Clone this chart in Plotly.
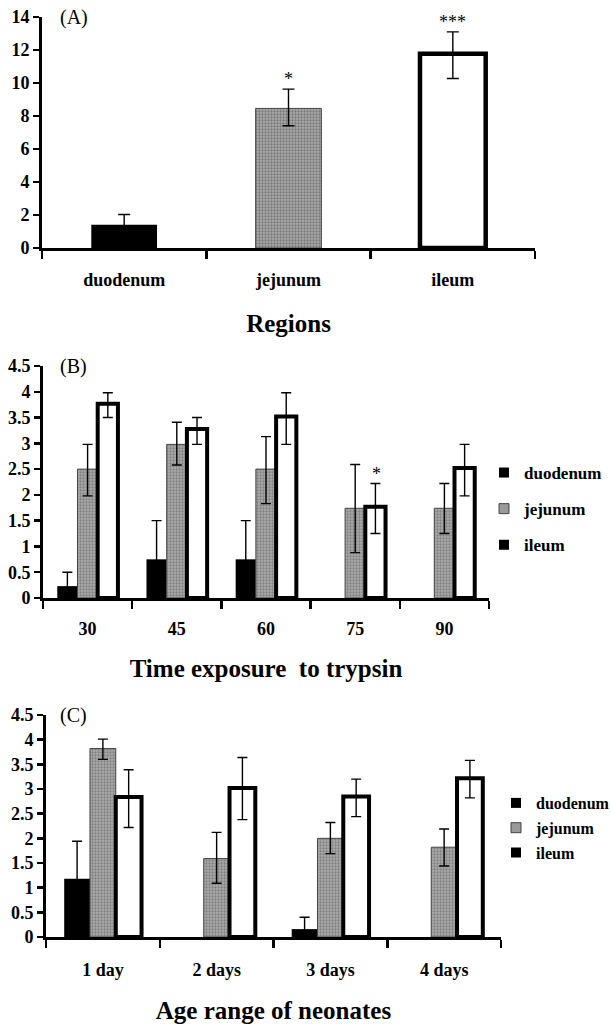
import plotly.graph_objects as go

# ---------------- data ----------------
regions = ["duodenum", "jejunum", "ileum"]
a_values = [1.41, 8.46, 11.78]
a_err_hi = [0.62, 1.17, 1.32]
a_err_lo = [0.62, 1.05, 1.51]
a_stars = ["", "*", "***"]

times = ["30", "45", "60", "75", "90"]
b_duo = [0.23, 0.75, 0.75, None, None]      # no duodenum bar at 75 and 90
b_duo_err = [0.27, 0.75, 0.75, None, None]
b_jej = [2.50, 2.98, 2.50, 1.74, 1.74]
b_jej_hi = [0.48, 0.43, 0.63, 0.85, 0.48]
b_jej_lo = [0.52, 0.40, 0.67, 0.86, 0.49]
b_ile = [3.77, 3.28, 3.52, 1.77, 2.52]
b_ile_hi = [0.21, 0.22, 0.46, 0.45, 0.46]
b_ile_lo = [0.27, 0.30, 0.54, 0.52, 0.54]
b_stars_ile = ["", "", "", "*", ""]

ages = ["1 day", "2 days", "3 days", "4 days"]
c_duo = [1.18, None, 0.16, None]             # no duodenum bar at 2 and 4 days
c_duo_err = [0.76, None, 0.24, None]
c_jej = [3.82, 1.59, 2.00, 1.82]
c_jej_hi = [0.19, 0.53, 0.32, 0.37]
c_jej_lo = [0.22, 0.50, 0.31, 0.38]
c_ile = [2.84, 3.02, 2.85, 3.22]
c_ile_hi = [0.55, 0.62, 0.35, 0.36]
c_ile_lo = [0.62, 0.64, 0.41, 0.40]

series_names = ["duodenum", "jejunum", "ileum"]
# --------------------------------------

FONT = "Liberation Serif, Times New Roman, serif"
W, H = 611, 1024
JEJ_BG = "#ababab"
JEJ_FG = "#555555"

def px_x(p):
    return p / W

def px_y(p):
    return 1 - p / H

def lower_clip(errs, vals):
    return [None if (e is None or v is None) else min(e, v)
            for e, v in zip(errs, vals)]

duo_style = dict(color="black", line=dict(width=0))
jej_style = dict(color=JEJ_BG, line=dict(width=1, color="#444444"),
                 pattern=dict(shape=".", size=3, solidity=0.45,
                              fgcolor=JEJ_FG, bgcolor=JEJ_BG))

def ile_style(w):
    return dict(color="white", line=dict(width=w, color="black"))

def err(hi, lo, cap):
    return dict(type="data", array=hi, arrayminus=lo, symmetric=False,
                color="black", thickness=1.4, width=cap, visible=True)

fig = go.Figure()

# ---- panel A ----
a_colors = ["black", JEJ_BG, "white"]
a_line_w = [0, 1, 4.5]
a_line_c = ["black", "#444444", "black"]
a_pat = ["", ".", ""]
fig.add_trace(go.Bar(
    x=regions, y=a_values, xaxis="x", yaxis="y", showlegend=False,
    marker=dict(color=a_colors, line=dict(width=a_line_w, color=a_line_c),
                pattern=dict(shape=a_pat, size=3, solidity=0.45,
                             fgcolor=JEJ_FG, bgcolor=JEJ_BG)),
    error_y=err(a_err_hi, a_err_lo, 6), width=0.4,
))

# ---- panel B ----
b_sets = [
    (b_duo, b_duo_err, lower_clip(b_duo_err, b_duo), duo_style),
    (b_jej, b_jej_hi, b_jej_lo, jej_style),
    (b_ile, b_ile_hi, b_ile_lo, ile_style(4)),
]
for name, (vals, hi, lo, st) in zip(series_names, b_sets):
    fig.add_trace(go.Bar(
        x=times, y=vals, name=name, xaxis="x2", yaxis="y2",
        marker=st, error_y=err(hi, lo, 5), showlegend=False,
    ))

# ---- panel C ----
c_sets = [
    (c_duo, c_duo_err, lower_clip(c_duo_err, c_duo), duo_style),
    (c_jej, c_jej_hi, c_jej_lo, jej_style),
    (c_ile, c_ile_hi, c_ile_lo, ile_style(4)),
]
for name, (vals, hi, lo, st) in zip(series_names, c_sets):
    fig.add_trace(go.Bar(
        x=ages, y=vals, name=name, xaxis="x3", yaxis="y3",
        marker=st, error_y=err(hi, lo, 5), showlegend=False,
    ))

# ---- legend entries (legend-only markers, styled like the original keys) ----
legend_marker = {
    "duodenum": dict(color="black", line=dict(width=0)),
    "jejunum": dict(color="#9a9a9a", line=dict(width=1, color="#444444")),
    "ileum": dict(color="black", line=dict(width=0)),
}
for leg, xr, yr in [("legend", "x2", "y2"), ("legend2", "x3", "y3")]:
    for name in series_names:
        fig.add_trace(go.Scatter(
            x=[None], y=[None], mode="markers", name=name, xaxis=xr, yaxis=yr,
            marker=dict(symbol="square", size=10, **legend_marker[name]),
            legend=leg, legendgroup=name + leg, showlegend=True,
        ))

tickfont = dict(family=FONT, size=18, color="black", weight="bold")
titlefont = dict(family=FONT, size=25, color="black", weight="bold")

def xax(dom, anchor, title, n, standoff_lbl, title_standoff):
    return dict(domain=dom, anchor=anchor, type="category",
                range=[-0.5, n - 0.5], automargin=False,
                showline=True, linewidth=3, linecolor="black",
                ticks="outside", tickson="boundaries", ticklen=8,
                tickwidth=2.5, tickcolor="black", tickfont=tickfont,
                tickangle=0,
                ticklabelstandoff=standoff_lbl, showgrid=False, zeroline=False,
                title=dict(text=title, font=titlefont, standoff=title_standoff),
                fixedrange=True)

def yax(dom, anchor, rng, dtick):
    return dict(domain=dom, anchor=anchor, range=rng, dtick=dtick,
                automargin=False,
                showline=True, linewidth=3, linecolor="black",
                ticks="outside", ticklen=6, tickwidth=2.5, tickcolor="black",
                tickfont=tickfont, showgrid=False, zeroline=False,
                fixedrange=True)

fig.update_layout(
    width=W, height=H, margin=dict(l=0, r=0, t=0, b=0, autoexpand=False),
    paper_bgcolor="white", plot_bgcolor="white",
    barmode="group", bargap=0.32, bargroupgap=0,
    font=dict(family=FONT, color="black"),
    xaxis=xax([px_x(42), px_x(535)], "y", "Regions", len(regions), 13, 26),
    yaxis=yax([px_y(248), px_y(17)], "x", [0, 14], 2),
    xaxis2=xax([px_x(43), px_x(489)], "y2", "Time exposure  to trypsin",
               len(times), 12, 22),
    yaxis2=yax([px_y(598), px_y(366)], "x2", [0, 4.5], 0.5),
    xaxis3=xax([px_x(46), px_x(501)], "y3", "Age range of neonates",
               len(ages), 14, 32),
    yaxis3=yax([px_y(937), px_y(715)], "x3", [0, 4.5], 0.5),
    legend=dict(x=px_x(484), y=px_y(455), xanchor="left", yanchor="top",
                font=dict(family=FONT, size=17, color="black", weight="bold"),
                tracegroupgap=11, bgcolor="rgba(0,0,0,0)"),
    legend2=dict(x=px_x(496), y=px_y(786), xanchor="left", yanchor="top",
                 font=dict(family=FONT, size=16, color="black", weight="bold"),
                 tracegroupgap=1, bgcolor="rgba(0,0,0,0)"),
)

# panel letters
for lbl, xr, yr, left in [("(A)", "x", "y", 42), ("(B)", "x2", "y2", 43),
                          ("(C)", "x3", "y3", 46)]:
    fig.add_annotation(text=lbl, xref=xr + " domain", yref=yr + " domain",
                       x=0, y=1.0, xanchor="left", yanchor="middle",
                       xshift=58 - left, showarrow=False,
                       font=dict(family=FONT, size=20, color="black"))

# significance stars, panel A
for i, (v, e, s) in enumerate(zip(a_values, a_err_hi, a_stars)):
    if s:
        fig.add_annotation(text=s, x=i, y=v + e, xref="x", yref="y",
                           yanchor="bottom", yshift=-2, showarrow=False,
                           font=dict(family=FONT, size=18, color="black"))
# significance stars, panel B (above the ileum bar, third in each group)
for i, (v, e, s) in enumerate(zip(b_ile, b_ile_hi, b_stars_ile)):
    if s:
        fig.add_annotation(text=s, x=i, y=v + e, xref="x2", yref="y2",
                           xshift=21, yanchor="bottom", yshift=-2,
                           showarrow=False,
                           font=dict(family=FONT, size=18, color="black"))

fig.write_html(
    "out.html",
    config={"displayModeBar": False, "staticPlot": True},
    post_script="document.body.style.margin='0px';"
                "document.body.style.overflow='hidden';",
)
